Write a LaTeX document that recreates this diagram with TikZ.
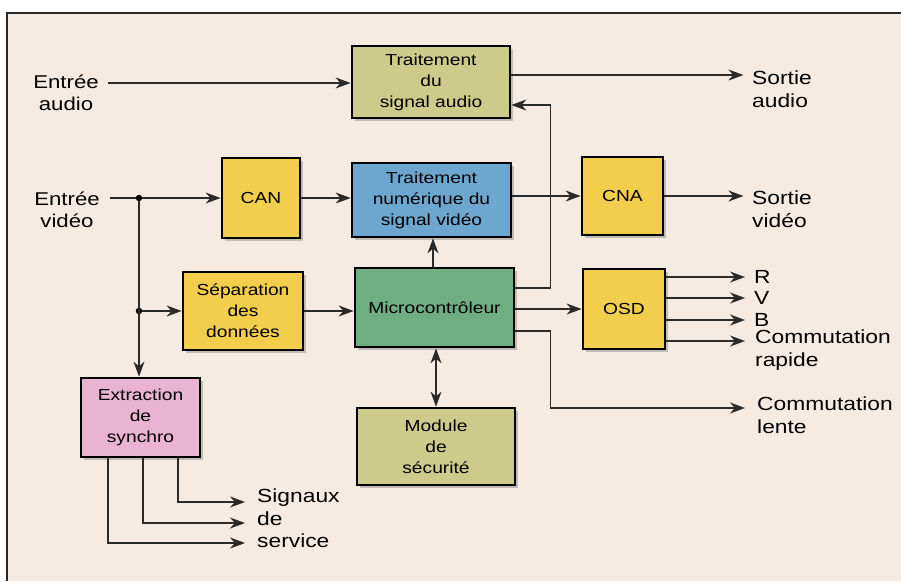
\documentclass[tikz,border=0pt]{standalone}
\usepackage{fontspec}
\setmainfont{Liberation Sans}[FakeStretch=1.2]
\usetikzlibrary{arrows.meta,shadows}
\definecolor{bgc}{HTML}{F6EBE3}
\definecolor{olivebox}{HTML}{CDCB8C}
\definecolor{bluebox}{HTML}{6DA7CF}
\definecolor{yellowbox}{HTML}{F3CD4C}
\definecolor{greenbox}{HTML}{6FAE80}
\definecolor{pinkbox}{HTML}{E9B4D2}
\definecolor{wire}{HTML}{2A2A2A}
\tikzset{
  blk/.style={draw=black, line width=2.8pt, inner sep=0pt, align=center,
    font=\fontsize{16}{21}\selectfont,
    drop shadow={shadow xshift=3pt, shadow yshift=-3pt, fill=black!45, opacity=.5}},
  lbl/.style={inner sep=0pt, align=center, font=\fontsize{18.5}{22}\selectfont},
  lbll/.style={inner sep=0pt, align=left, anchor=west, font=\fontsize{19}{22.5}\selectfont},
  wr/.style={draw=wire, line width=1.1pt},
  arr/.style={wr, -{Stealth[length=15pt,width=11pt]}},
  darr/.style={wr, {Stealth[length=15pt,width=11pt]}-{Stealth[length=15pt,width=11pt]}},
  dot/.style={circle, fill=black, inner sep=0pt, minimum size=6.5pt}
}
\begin{document}
\begin{tikzpicture}[x=1pt,y=-1pt]
\fill[white] (0,0) rectangle (901,581);
\fill[bgc] (7,13) rectangle (901,581);
\useasboundingbox (0,0) rectangle (901,581);
\draw[line width=1.3pt, black!85] (901,13) -- (7,13) -- (7,581);

% boxes
\node[blk, fill=olivebox, minimum width=158pt, minimum height=72pt] (audio) at (431,82) {Traitement\\du\\signal audio};
\node[blk, fill=bluebox, minimum width=159pt, minimum height=74pt] (num) at (431.5,200) {Traitement\\numérique du\\signal vidéo};
\node[blk, fill=yellowbox, minimum width=78pt, minimum height=80pt] (can) at (261,198) {CAN};
\node[blk, fill=yellowbox, minimum width=120pt, minimum height=78pt] (sep) at (243,311) {Séparation\\des\\données};
\node[blk, fill=greenbox, minimum width=159pt, minimum height=79pt] (micro) at (434.5,307.5) {Microcontrôleur};
\node[blk, fill=olivebox, minimum width=158pt, minimum height=77pt] (mod) at (436,446.5) {Module\\de\\sécurité};
\node[blk, fill=yellowbox, minimum width=81pt, minimum height=78pt] (cna) at (622.5,196) {CNA};
\node[blk, fill=yellowbox, minimum width=82pt, minimum height=80pt] (osd) at (624,309) {OSD};
\node[blk, fill=pinkbox, minimum width=119pt, minimum height=79pt] (extr) at (140.5,417.5) {Extraction\\de\\synchro};

% labels
\node[lbl] (ea) at (66,93) {Entrée\\audio};
\node[lbl] (ev) at (67,210) {Entrée\\vidéo};
\node[lbll] (sa) at (752,89) {Sortie\\audio};
\node[lbll] (sv) at (752,209) {Sortie\\vidéo};
\node[lbll] (r) at (754,277) {R};
\node[lbll] (v) at (754,298) {V};
\node[lbll] (b) at (754,320) {B};
\node[lbll, anchor=north west] (cr) at (755,330) {Commutation\\rapide};
\node[lbll, anchor=north west] (cl) at (757,397) {Commutation\\lente};
\node[lbll, anchor=north west] (ss) at (257,489) {Signaux\\de\\service};

% coordinates
\coordinate (eaS) at (108,83);
\coordinate (evS) at (110,198);
\node[dot] (j1) at (139,198) {};
\node[dot] (j2) at (139,311) {};

% audio path
\draw[arr] (eaS) -- (eaS -| audio.west);
\draw[arr] ([yshift=7pt]audio.east) -- ++(232,0) coordinate (saT);
\draw[arr] ([yshift=19.5pt]micro.east) -- ++(35,0) |- ([yshift=-23pt]audio.east);

% video path
\draw[wr] (evS) -- (j1);
\draw[arr] (j1) -- (can.west);
\draw[arr] (j1) -- (j1 |- extr.north);
\draw[arr] (j2) -- (j2 -| sep.west);
\draw[arr] (can.east) -- (can.east -| num.west);
\draw[arr] (cna.west -| num.east) -- (cna.west);
\draw[arr] (cna.east) -- ++(79,0);
\draw[arr] (micro.north -| 433,0) -- (433,0 |- num.south);
\draw[arr] (sep.east) -- (sep.east -| micro.west);
\draw[arr] (osd.west -| micro.east) -- (osd.west);
\draw[darr] (mod.north |- micro.south) -- (mod.north);

% OSD outputs
\draw[arr] (osd.east |- r) -- ([xshift=-9pt]r.west);
\draw[arr] (osd.east |- v) -- ([xshift=-9pt]v.west);
\draw[arr] (osd.east |- b) -- ([xshift=-9pt]b.west);
\draw[arr] (osd.east |- 0,341) -- (745,341);
\draw[arr] ([yshift=-23.5pt]micro.east) -- ++(35,0) |- (745,408);

% synchro outputs
\draw[arr] ([xshift=37.5pt]extr.south) |- (245,502);
\draw[arr] ([xshift=2.5pt]extr.south) |- (245,523);
\draw[arr] ([xshift=-32.5pt]extr.south) |- (245,543);
\end{tikzpicture}
\end{document}
